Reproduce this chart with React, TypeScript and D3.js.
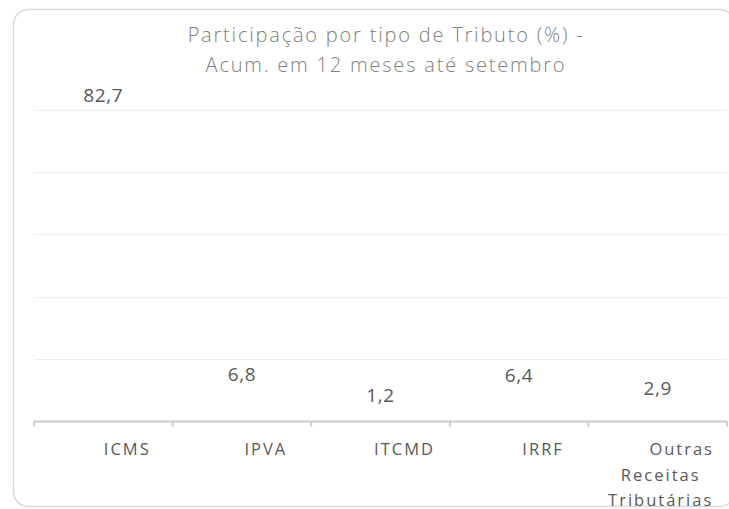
import React, { useEffect, useRef } from 'react';
import * as d3 from 'd3';

const titleLines = ['Participação por tipo de Tributo (%) -', 'Acum. em 12 meses até setembro'];
const categories = ['ICMS', 'IPVA', 'ITCMD', 'IRRF', 'Outras Receitas Tributárias'];
const categoryLines = [['ICMS'], ['IPVA'], ['ITCMD'], ['IRRF'], ['Outras', 'Receitas', 'Tributárias']];
const shares = [82.7, 6.8, 1.2, 6.4, 2.9];
const valueLabels = ['82,7', '6,8', '1,2', '6,4', '2,9'];

const W = 729;
const H = 509;
const FONT = "'Open Sans', 'Liberation Sans', sans-serif";

const App: React.FC = () => {
  const svgRef = useRef<SVGSVGElement>(null);

  useEffect(() => {
    if (!svgRef.current) return;

    const plot = { left: 34, right: 727, top: 110, bottom: 421 };
    const yMax = 84.5;
    const gridCount = 5;

    const x = d3.scaleBand<string>().domain(categories).range([plot.left, plot.right]).padding(0);
    const y = d3.scaleLinear().domain([0, yMax]).range([plot.bottom, plot.top]);

    const svg = d3.select(svgRef.current).attr('width', W).attr('height', H).html('');

    // card (right side runs past the picture edge)
    svg.append('rect')
      .attr('x', 13.5).attr('y', 9.5)
      .attr('width', 721).attr('height', 497)
      .attr('rx', 15)
      .style('fill', '#ffffff')
      .style('stroke', '#d9d9d9')
      .style('stroke-width', 1.5);

    // title
    svg.append('g').selectAll('text')
      .data(titleLines)
      .enter().append('text')
      .attr('x', 386)
      .attr('y', (d, i) => 42 + i * 30)
      .attr('text-anchor', 'middle')
      .style('font-family', FONT)
      .style('font-size', '20px')
      .style('font-weight', 300)
      .style('letter-spacing', '1.8px')
      .style('fill', '#808080')
      .text(d => d);

    // gridlines
    const gridVals = d3.range(1, gridCount + 1).map(i => (i * yMax) / gridCount);
    svg.append('g').selectAll('line')
      .data(gridVals)
      .enter().append('line')
      .attr('x1', plot.left).attr('x2', plot.right)
      .attr('y1', d => Math.round(y(d)) + 0.5)
      .attr('y2', d => Math.round(y(d)) + 0.5)
      .style('stroke', '#ebebeb')
      .style('stroke-width', 1.2);

    // bars (no fill in the original)
    svg.append('g').selectAll('rect')
      .data(shares)
      .enter().append('rect')
      .attr('x', (d, i) => x(categories[i])! + x.bandwidth() * 0.25)
      .attr('width', x.bandwidth() * 0.5)
      .attr('y', d => y(d))
      .attr('height', d => y(0) - y(d))
      .style('fill', 'none');

    // value labels
    svg.append('g').selectAll('text')
      .data(shares)
      .enter().append('text')
      .attr('x', (d, i) => x(categories[i])! + x.bandwidth() / 2)
      .attr('y', d => y(d) - 15)
      .attr('text-anchor', 'middle')
      .style('font-family', FONT)
      .style('font-size', '19px')
      .style('letter-spacing', '0.6px')
      .style('fill', '#595959')
      .text((d, i) => valueLabels[i]);

    // category axis
    const axisY = plot.bottom + 0.5;
    svg.append('line')
      .attr('x1', plot.left).attr('x2', plot.right)
      .attr('y1', axisY).attr('y2', axisY)
      .style('stroke', '#cccccc')
      .style('stroke-width', 2);

    const tickXs = categories.map(c => x(c)!).concat([x(categories[categories.length - 1])! + x.bandwidth()]);
    svg.append('g').selectAll('line')
      .data(tickXs)
      .enter().append('line')
      .attr('x1', d => d).attr('x2', d => d)
      .attr('y1', axisY).attr('y2', axisY + 5)
      .style('stroke', '#cccccc')
      .style('stroke-width', 2);

    const cat = svg.append('g').selectAll('g')
      .data(categoryLines)
      .enter().append('g');

    cat.selectAll('text')
      .data((lines, i) => lines.map((t, j) => ({ t, j, i })))
      .enter().append('text')
      .attr('x', d => x(categories[d.i])! + x.bandwidth() / 2 + (d.j === 0 ? 24 : 3))
      .attr('y', d => 455 + d.j * 25.5)
      .attr('text-anchor', 'middle')
      .style('font-family', FONT)
      .style('font-size', '16.5px')
      .style('letter-spacing', '2px')
      .style('fill', '#595959')
      .text(d => d.t);
  }, []);

  return (
    <div style={{ position: 'fixed', left: 0, top: 0, width: W, height: H, background: '#ffffff' }}>
      <svg ref={svgRef}></svg>
    </div>
  );
};

export default App;
